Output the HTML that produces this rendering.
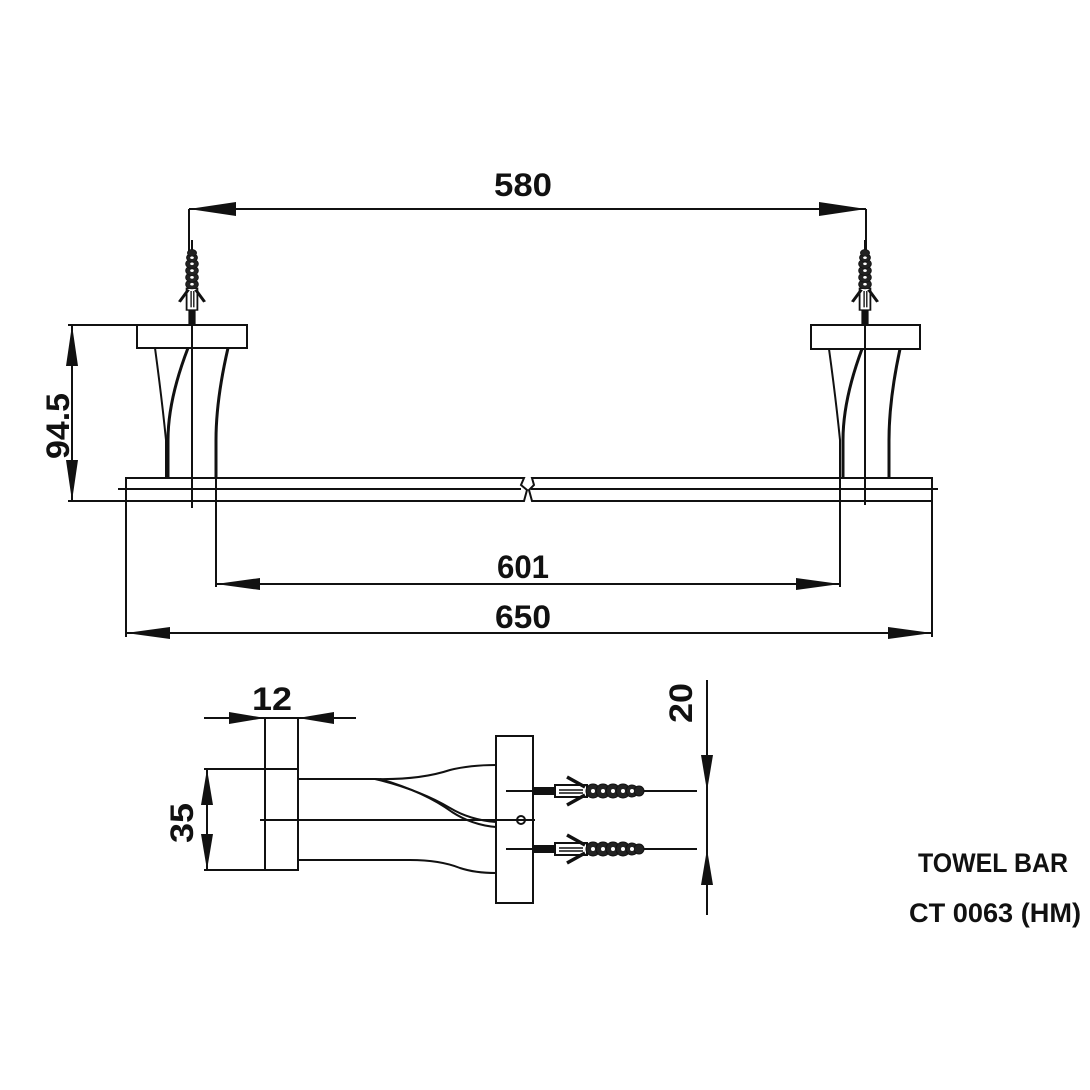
<!DOCTYPE html>
<html><head><meta charset="utf-8"><style>html,body{margin:0;padding:0;background:#fff}svg{display:block}
text{font-family:"Liberation Sans Narrow","Liberation Sans",sans-serif;font-weight:bold;fill:#111}</style></head>
<body>
<svg width="1090" height="1090" viewBox="0 0 1090 1090" xmlns="http://www.w3.org/2000/svg">
<defs>
<g id="anc">
 <rect x="0" y="-4" width="24" height="8" fill="#111"/>
 <rect x="22" y="-6" width="32" height="12" fill="#fff" stroke="#111" stroke-width="2"/>
 <line x1="26" y1="-1" x2="50" y2="-1" stroke="#111" stroke-width="1.5"/>
 <line x1="26" y1="2" x2="50" y2="2" stroke="#111" stroke-width="1.5"/>
 <path d="M34,-14 L52,-4 M34,14 L52,4" stroke="#111" stroke-width="3.5" fill="none"/>
 <g fill="#222" stroke="#111" stroke-width="1">
  <circle cx="60" cy="0" r="7"/><circle cx="70" cy="0" r="7"/><circle cx="80" cy="0" r="7"/><circle cx="90" cy="0" r="7"/><circle cx="99" cy="0" r="6"/><circle cx="106" cy="0" r="5"/>
 </g>
 <g fill="#fff"><circle cx="60" cy="0" r="2"/><circle cx="70" cy="0" r="2"/><circle cx="80" cy="0" r="2"/><circle cx="90" cy="0" r="2"/><circle cx="99" cy="0" r="2"/></g>
</g>
</defs>
<g stroke="#111" stroke-width="2" fill="none">
<line x1="189" y1="209" x2="866" y2="209"/>
<line x1="189" y1="209" x2="189" y2="260"/>
<line x1="866" y1="209" x2="866" y2="260"/>
<rect x="137" y="325" width="110" height="23"/>
<rect x="811" y="325" width="109" height="24"/>
<line x1="68" y1="325" x2="137" y2="325"/>
<line x1="68" y1="501" x2="126" y2="501"/>
<line x1="72" y1="325" x2="72" y2="501"/>
<path d="M155,348 Q162,400 166,440 L166,478"/>
<path d="M188,348 Q168,400 168,440 L168,478" stroke-width="3"/>
<path d="M228,348 Q216,400 216,440 L216,478" stroke-width="3"/>
<path d="M829,349 Q836,400 840,440 L840,478"/>
<path d="M862,349 Q843,400 843,440 L843,478" stroke-width="3"/>
<path d="M900,349 Q889,400 889,440 L889,478" stroke-width="3"/>
<line x1="192" y1="240" x2="192" y2="508"/>
<line x1="865" y1="240" x2="865" y2="505"/>
<path d="M126,478 L524,478 L521,485 L527,490 L524,501 L126,501 Z"/>
<path d="M532,478 L932,478 L932,501 L532,501 L529,490 L534,485 Z"/>
<line x1="118" y1="489" x2="521" y2="489"/>
<line x1="531" y1="489" x2="938" y2="489"/>
<line x1="126" y1="478" x2="126" y2="637"/>
<line x1="216" y1="478" x2="216" y2="587"/>
<line x1="840" y1="478" x2="840" y2="587"/>
<line x1="932" y1="478" x2="932" y2="637"/>
<line x1="216" y1="584" x2="840" y2="584"/>
<line x1="126" y1="633" x2="932" y2="633"/>
<line x1="204" y1="718" x2="356" y2="718"/>
<rect x="265" y="718" width="33" height="152"/>
<line x1="204" y1="769" x2="298" y2="769"/>
<line x1="204" y1="870" x2="265" y2="870"/>
<line x1="207" y1="769" x2="207" y2="870"/>
<line x1="260" y1="820" x2="535" y2="820"/>
<path d="M298,779 L375,779 Q420,780 450,770 Q470,765 496,765"/>
<path d="M375,779 Q420,790 450,808 Q470,820 496,822"/>
<path d="M380,779 Q425,792 452,812 Q472,825 496,827"/>
<path d="M298,860 L410,860 Q440,860 460,868 Q475,873 496,873"/>
<rect x="496" y="736" width="37" height="167"/>
<circle cx="521" cy="820" r="4"/>
<line x1="506" y1="791" x2="697" y2="791"/>
<line x1="506" y1="849" x2="697" y2="849"/>
<line x1="707" y1="680" x2="707" y2="915"/>
</g>
<g transform="translate(192,325) rotate(-90) scale(0.68,0.9)"><use href="#anc"/></g>
<g transform="translate(865,325) rotate(-90) scale(0.68,0.9)"><use href="#anc"/></g>
<use href="#anc" transform="translate(533,791)"/>
<use href="#anc" transform="translate(533,849)"/>
<g fill="#111">
<path d="M189,209 L236,202 L236,216 Z"/>
<path d="M866,209 L819,202 L819,216 Z"/>
<path d="M72,325 L66,366 L78,366 Z"/>
<path d="M72,501 L66,460 L78,460 Z"/>
<path d="M216,584 L260,578 L260,590 Z"/>
<path d="M840,584 L796,578 L796,590 Z"/>
<path d="M126,633 L170,627 L170,639 Z"/>
<path d="M932,633 L888,627 L888,639 Z"/>
<path d="M265,718 L229,712 L229,724 Z"/>
<path d="M298,718 L334,712 L334,724 Z"/>
<path d="M207,769 L201,805 L213,805 Z"/>
<path d="M207,870 L201,834 L213,834 Z"/>
<path d="M707,791 L701,755 L713,755 Z"/>
<path d="M707,849 L701,885 L713,885 Z"/>
</g>
<text x="523" y="196" font-size="32" text-anchor="middle" textLength="58" lengthAdjust="spacingAndGlyphs">580</text>
<text x="523" y="578" font-size="32" text-anchor="middle" textLength="52" lengthAdjust="spacingAndGlyphs">601</text>
<text x="523" y="628" font-size="32" text-anchor="middle" textLength="56" lengthAdjust="spacingAndGlyphs">650</text>
<text x="272" y="710" font-size="32" text-anchor="middle" textLength="40" lengthAdjust="spacingAndGlyphs">12</text>
<text transform="translate(69,426) rotate(-90)" font-size="32" text-anchor="middle" textLength="66" lengthAdjust="spacingAndGlyphs">94.5</text>
<text transform="translate(193,823) rotate(-90)" font-size="32" text-anchor="middle" textLength="40" lengthAdjust="spacingAndGlyphs">35</text>
<text transform="translate(692,703) rotate(-90)" font-size="32" text-anchor="middle" textLength="40" lengthAdjust="spacingAndGlyphs">20</text>
<text x="918" y="872" font-size="27" textLength="150" lengthAdjust="spacingAndGlyphs">TOWEL BAR</text>
<text x="909" y="922" font-size="27" textLength="172" lengthAdjust="spacingAndGlyphs">CT 0063 (HM)</text>
</svg>
</body></html>
